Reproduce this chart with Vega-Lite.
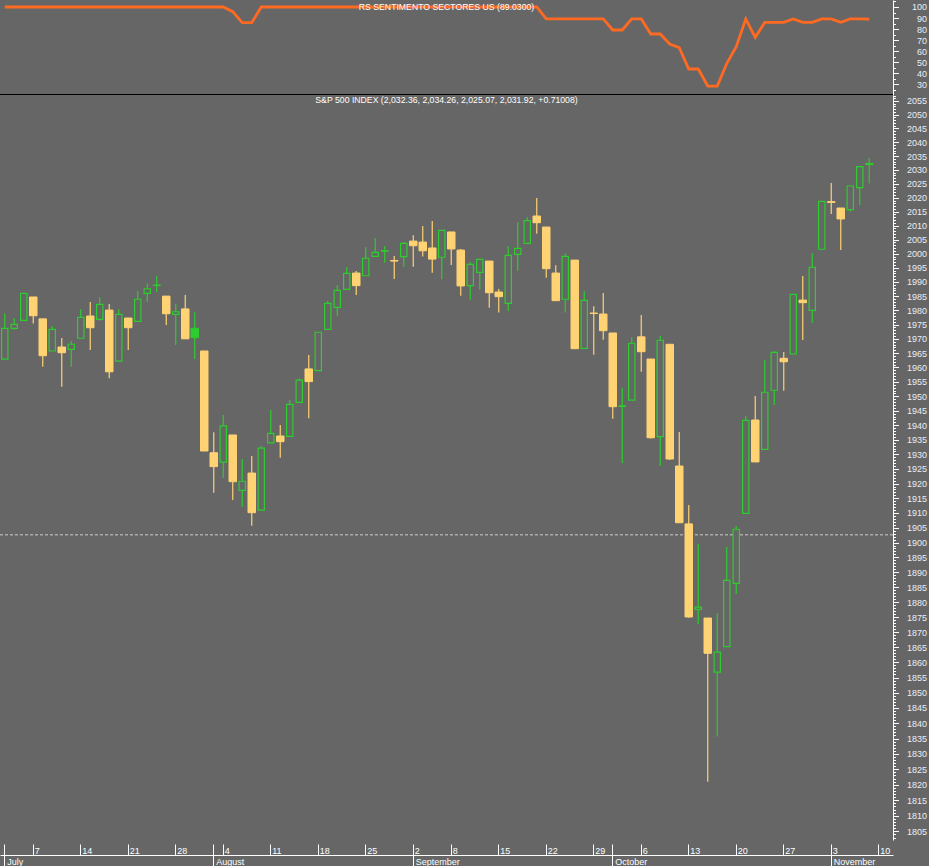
{
  "$schema": "https://vega.github.io/schema/vega-lite/v6.json",
  "width": 893,
  "height": 855,
  "autosize": {"type": "none"},
  "padding": {"left": 0, "top": 0, "right": 36, "bottom": 11},
  "background": "#666666",
  "config": {
    "view": {"stroke": null},
    "font": "Liberation Sans",
    "axis": {"grid": false, "labelFont": "Liberation Sans", "domainColor": "#FFFFFF", "tickColor": "#FFFFFF", "domainWidth": 1, "tickWidth": 1}
  },
  "title": {
    "text": "RS SENTIMENTO SECTORES US (89.0300)",
    "subtitle": "S&P 500 INDEX (2,032.36, 2,034.26, 2,025.07, 2,031.92, +0.71008)",
    "anchor": "middle",
    "frame": "group",
    "offset": -107.5,
    "subtitlePadding": 84.5,
    "font": "Liberation Sans",
    "subtitleFont": "Liberation Sans",
    "fontSize": 8.7,
    "subtitleFontSize": 8.7,
    "fontWeight": "normal",
    "color": "#FFFFFF",
    "subtitleColor": "#FFFFFF"
  },
  "data": {"values": [
    {"d":"2014-07-01","o":1962.9,"h":1978.9,"l":1962.9,"c":1973.7,"rs":100},
    {"d":"2014-07-02","o":1973.7,"h":1977.2,"l":1973.1,"c":1975.1,"rs":100},
    {"d":"2014-07-03","o":1976.5,"h":1986.0,"l":1976.5,"c":1986.0,"rs":100},
    {"d":"2014-07-07","o":1984.7,"h":1984.7,"l":1975.4,"c":1978.1,"rs":100},
    {"d":"2014-07-08","o":1977.0,"h":1977.0,"l":1960.3,"c":1964.1,"rs":100},
    {"d":"2014-07-09","o":1965.75,"h":1974.5,"l":1965.75,"c":1973.3,"rs":100},
    {"d":"2014-07-10","o":1967.15,"h":1970.3,"l":1953.3,"c":1965.15,"rs":100},
    {"d":"2014-07-11","o":1966.35,"h":1969.25,"l":1960.3,"c":1968.1,"rs":100},
    {"d":"2014-07-14","o":1970.2,"h":1980.35,"l":1970.2,"c":1977.55,"rs":100},
    {"d":"2014-07-15","o":1978.0,"h":1982.9,"l":1966.1,"c":1973.9,"rs":100},
    {"d":"2014-07-16","o":1976.85,"h":1984.6,"l":1976.35,"c":1982.1,"rs":100},
    {"d":"2014-07-17","o":1980.1,"h":1982.2,"l":1956.25,"c":1958.5,"rs":100},
    {"d":"2014-07-18","o":1962.25,"h":1980.35,"l":1962.25,"c":1978.6,"rs":100},
    {"d":"2014-07-21","o":1977.3,"h":1977.3,"l":1966.1,"c":1973.9,"rs":100},
    {"d":"2014-07-22","o":1976.15,"h":1986.7,"l":1976.15,"c":1983.9,"rs":100},
    {"d":"2014-07-23","o":1986.0,"h":1989.5,"l":1983.0,"c":1987.6,"rs":100},
    {"d":"2014-07-24","o":1988.9,"h":1992.1,"l":1986.5,"c":1988.8,"rs":100},
    {"d":"2014-07-25","o":1985.0,"h":1985.0,"l":1974.85,"c":1978.8,"rs":100},
    {"d":"2014-07-28","o":1978.6,"h":1982.2,"l":1967.85,"c":1979.5,"rs":100},
    {"d":"2014-07-29","o":1980.5,"h":1985.4,"l":1970.0,"c":1970.0,"rs":100},
    {"d":"2014-07-30","o":1973.7,"h":1979.3,"l":1962.95,"c":1970.4,"rs":100},
    {"d":"2014-07-31","o":1965.75,"h":1965.75,"l":1931.15,"c":1931.15,"rs":100},
    {"d":"2014-08-01","o":1930.55,"h":1937.6,"l":1916.9,"c":1925.8,"rs":100},
    {"d":"2014-08-04","o":1927.3,"h":1943.5,"l":1922.0,"c":1939.75,"rs":100},
    {"d":"2014-08-05","o":1936.65,"h":1936.65,"l":1914.4,"c":1920.65,"rs":95.8},
    {"d":"2014-08-06","o":1917.7,"h":1928.3,"l":1912.15,"c":1920.8,"rs":85.8},
    {"d":"2014-08-07","o":1923.6,"h":1929.45,"l":1905.7,"c":1910.1,"rs":85.8},
    {"d":"2014-08-08","o":1911.0,"h":1932.9,"l":1911.0,"c":1932.1,"rs":100},
    {"d":"2014-08-11","o":1933.9,"h":1945.3,"l":1933.9,"c":1937.2,"rs":100},
    {"d":"2014-08-12","o":1936.3,"h":1940.1,"l":1928.85,"c":1934.35,"rs":100},
    {"d":"2014-08-13","o":1936.2,"h":1948.7,"l":1936.2,"c":1947.2,"rs":100},
    {"d":"2014-08-14","o":1947.9,"h":1956.25,"l":1947.9,"c":1955.6,"rs":100},
    {"d":"2014-08-15","o":1959.5,"h":1964.35,"l":1942.4,"c":1955.1,"rs":100},
    {"d":"2014-08-18","o":1958.9,"h":1972.3,"l":1958.9,"c":1972.3,"rs":100},
    {"d":"2014-08-19","o":1973.3,"h":1983.3,"l":1973.3,"c":1982.45,"rs":100},
    {"d":"2014-08-20","o":1981.05,"h":1988.8,"l":1978.1,"c":1987.05,"rs":100},
    {"d":"2014-08-21","o":1987.4,"h":1995.2,"l":1987.4,"c":1993.05,"rs":100},
    {"d":"2014-08-22","o":1993.15,"h":1993.9,"l":1985.4,"c":1988.7,"rs":100},
    {"d":"2014-08-25","o":1992.2,"h":2002.3,"l":1992.2,"c":1998.4,"rs":100},
    {"d":"2014-08-26","o":1999.1,"h":2005.5,"l":1999.1,"c":2000.5,"rs":100},
    {"d":"2014-08-27","o":2000.9,"h":2002.75,"l":1996.8,"c":2001.1,"rs":100},
    {"d":"2014-08-28","o":1997.6,"h":1999.2,"l":1991.05,"c":1997.4,"rs":100},
    {"d":"2014-08-29","o":1999.0,"h":2004.15,"l":1995.4,"c":2003.7,"rs":100},
    {"d":"2014-09-02","o":2004.5,"h":2006.6,"l":1995.4,"c":2002.85,"rs":100},
    {"d":"2014-09-03","o":2004.15,"h":2009.85,"l":1999.0,"c":2001.05,"rs":100},
    {"d":"2014-09-04","o":2002.05,"h":2011.65,"l":1993.3,"c":1998.1,"rs":100},
    {"d":"2014-09-05","o":1998.75,"h":2008.45,"l":1990.95,"c":2008.35,"rs":100},
    {"d":"2014-09-08","o":2007.75,"h":2007.75,"l":1996.0,"c":2001.7,"rs":100},
    {"d":"2014-09-09","o":2001.3,"h":2001.7,"l":1985.15,"c":1988.6,"rs":100},
    {"d":"2014-09-10","o":1988.7,"h":1997.05,"l":1983.75,"c":1996.25,"rs":100},
    {"d":"2014-09-11","o":1993.4,"h":1998.0,"l":1987.3,"c":1998.0,"rs":100},
    {"d":"2014-09-12","o":1997.4,"h":1997.4,"l":1980.9,"c":1986.2,"rs":100},
    {"d":"2014-09-15","o":1986.45,"h":1987.5,"l":1979.2,"c":1984.8,"rs":100},
    {"d":"2014-09-16","o":1982.45,"h":2002.7,"l":1979.85,"c":1999.45,"rs":100},
    {"d":"2014-09-17","o":1999.8,"h":2011.2,"l":1994.0,"c":2001.9,"rs":100},
    {"d":"2014-09-18","o":2003.7,"h":2013.0,"l":2003.7,"c":2011.8,"rs":100},
    {"d":"2014-09-19","o":2013.45,"h":2019.9,"l":2007.1,"c":2011.05,"rs":100},
    {"d":"2014-09-22","o":2009.5,"h":2009.5,"l":1991.5,"c":1994.7,"rs":89.2},
    {"d":"2014-09-23","o":1993.15,"h":1995.9,"l":1983.4,"c":1983.4,"rs":89.2},
    {"d":"2014-09-24","o":1983.9,"h":2000.15,"l":1979.2,"c":1999.1,"rs":89.2},
    {"d":"2014-09-25","o":1997.75,"h":1997.75,"l":1966.55,"c":1966.55,"rs":89.2},
    {"d":"2014-09-26","o":1966.7,"h":1986.7,"l":1966.7,"c":1983.5,"rs":89.2},
    {"d":"2014-09-29","o":1979.05,"h":1981.4,"l":1964.45,"c":1978.9,"rs":89.2},
    {"d":"2014-09-30","o":1978.7,"h":1986.1,"l":1969.7,"c":1972.85,"rs":89.2},
    {"d":"2014-10-01","o":1972.05,"h":1972.05,"l":1942.25,"c":1946.4,"rs":79.2},
    {"d":"2014-10-02","o":1946.5,"h":1952.9,"l":1927.05,"c":1946.7,"rs":79.2},
    {"d":"2014-10-03","o":1948.7,"h":1970.6,"l":1948.7,"c":1968.45,"rs":89.2},
    {"d":"2014-10-06","o":1970.7,"h":1978.35,"l":1958.55,"c":1965.5,"rs":89.2},
    {"d":"2014-10-07","o":1962.95,"h":1962.95,"l":1935.4,"c":1935.7,"rs":75.6},
    {"d":"2014-10-08","o":1936.05,"h":1971.0,"l":1926.1,"c":1969.5,"rs":75.6},
    {"d":"2014-10-09","o":1968.1,"h":1968.1,"l":1928.07,"c":1928.4,"rs":66.6},
    {"d":"2014-10-10","o":1926.0,"h":1937.7,"l":1906.7,"c":1906.7,"rs":63.3},
    {"d":"2014-10-13","o":1906.3,"h":1912.7,"l":1874.8,"c":1875.05,"rs":44.0},
    {"d":"2014-10-14","o":1877.6,"h":1899.5,"l":1872.6,"c":1878.3,"rs":44.0},
    {"d":"2014-10-15","o":1874.7,"h":1874.7,"l":1821.0,"c":1863.0,"rs":28.6},
    {"d":"2014-10-16","o":1856.75,"h":1876.3,"l":1835.7,"c":1863.35,"rs":28.6},
    {"d":"2014-10-17","o":1865.2,"h":1898.5,"l":1865.2,"c":1887.3,"rs":48.9},
    {"d":"2014-10-20","o":1886.3,"h":1905.6,"l":1882.7,"c":1904.5,"rs":64.2},
    {"d":"2014-10-21","o":1909.9,"h":1943.2,"l":1909.9,"c":1941.7,"rs":89.2},
    {"d":"2014-10-22","o":1941.8,"h":1950.1,"l":1927.4,"c":1927.4,"rs":72.6},
    {"d":"2014-10-23","o":1931.7,"h":1962.6,"l":1931.7,"c":1951.4,"rs":86.1},
    {"d":"2014-10-24","o":1952.1,"h":1965.75,"l":1947.0,"c":1965.3,"rs":86.1},
    {"d":"2014-10-27","o":1963.2,"h":1965.4,"l":1951.95,"c":1962.0,"rs":86.1},
    {"d":"2014-10-28","o":1964.7,"h":1985.6,"l":1964.7,"c":1985.6,"rs":89.2},
    {"d":"2014-10-29","o":1983.6,"h":1992.1,"l":1969.6,"c":1982.7,"rs":86.1},
    {"d":"2014-10-30","o":1980.0,"h":2000.2,"l":1975.65,"c":1995.2,"rs":86.1},
    {"d":"2014-10-31","o":2001.6,"h":2018.7,"l":2001.6,"c":2018.7,"rs":89.2},
    {"d":"2014-11-03","o":2018.6,"h":2025.3,"l":2014.2,"c":2018.3,"rs":89.2},
    {"d":"2014-11-04","o":2016.3,"h":2016.3,"l":2001.3,"c":2012.4,"rs":86.1},
    {"d":"2014-11-05","o":2015.7,"h":2024.2,"l":2015.0,"c":2024.2,"rs":89.2},
    {"d":"2014-11-06","o":2023.6,"h":2031.2,"l":2017.3,"c":2031.2,"rs":89.2},
    {"d":"2014-11-07","o":2032.36,"h":2034.26,"l":2025.07,"c":2031.92,"rs":89.03}
  ]},
  "transform": [{"window": [{"op": "lag", "field": "c", "as": "pc"}]}],
  "layer": [
    {
      "layer": [
        {
          "mark": {"type": "line", "color": "#FF6A22", "strokeWidth": 2.8},
          "encoding": {
            "x": {
              "field": "d", "type": "ordinal",
              "scale": {"type": "band", "paddingInner": 0, "paddingOuter": 0, "domain": ["2014-07-01","2014-07-02","2014-07-03","2014-07-07","2014-07-08","2014-07-09","2014-07-10","2014-07-11","2014-07-14","2014-07-15","2014-07-16","2014-07-17","2014-07-18","2014-07-21","2014-07-22","2014-07-23","2014-07-24","2014-07-25","2014-07-28","2014-07-29","2014-07-30","2014-07-31","2014-08-01","2014-08-04","2014-08-05","2014-08-06","2014-08-07","2014-08-08","2014-08-11","2014-08-12","2014-08-13","2014-08-14","2014-08-15","2014-08-18","2014-08-19","2014-08-20","2014-08-21","2014-08-22","2014-08-25","2014-08-26","2014-08-27","2014-08-28","2014-08-29","2014-09-02","2014-09-03","2014-09-04","2014-09-05","2014-09-08","2014-09-09","2014-09-10","2014-09-11","2014-09-12","2014-09-15","2014-09-16","2014-09-17","2014-09-18","2014-09-19","2014-09-22","2014-09-23","2014-09-24","2014-09-25","2014-09-26","2014-09-29","2014-09-30","2014-10-01","2014-10-02","2014-10-03","2014-10-06","2014-10-07","2014-10-08","2014-10-09","2014-10-10","2014-10-13","2014-10-14","2014-10-15","2014-10-16","2014-10-17","2014-10-20","2014-10-21","2014-10-22","2014-10-23","2014-10-24","2014-10-27","2014-10-28","2014-10-29","2014-10-30","2014-10-31","2014-11-03","2014-11-04","2014-11-05","2014-11-06","2014-11-07","2014-11-10","2014-11-11"]},
              "axis": {
                "orient": "bottom", "title": null,
                "values": ["2014-07-01","2014-07-07","2014-07-14","2014-07-21","2014-07-28","2014-08-01","2014-08-04","2014-08-11","2014-08-18","2014-08-25","2014-09-02","2014-09-08","2014-09-15","2014-09-22","2014-09-29","2014-10-01","2014-10-06","2014-10-13","2014-10-20","2014-10-27","2014-11-03","2014-11-10"],
                "labelExpr": "indexof(['2014-07-01','2014-08-01','2014-10-01'], datum.value) >= 0 ? '' : utcFormat(toDate(datum.value), '%-d')",
                "tickSize": -11,
                "labelAlign": "left", "labelBaseline": "alphabetic", "labelPadding": 9.3, "labelOffset": 1.5,
                "labelColor": "#FFFFFF", "labelFontSize": 9, "labelAngle": 0,
                "labelOverlap": false, "labelFlush": false, "labelBound": false
              }
            },
            "y": {
              "field": "rs", "type": "quantitative",
              "scale": {"domain": [20.96, 106.32], "range": [94.5, 0], "zero": false, "nice": false},
              "axis": {
                "orient": "right", "title": null,
                "values": [25,30,35,40,45,50,55,60,65,70,75,80,85,90,95,100,105],
                "format": "d",
                "labelExpr": "datum.value % 10 === 0 && datum.value >= 30 && datum.value <= 100 ? datum.label : ''",
                "labelAlign": "right", "labelPadding": 28, "labelColor": "#E8EEF8", "labelFontSize": 9,
                "labelOverlap": false, "labelFlush": false,
                "tickSize": 5.5,
                "tickDash": {"condition": {"test": "datum.value % 10 !== 0", "value": [2.5, 20]}, "value": []}
              }
            }
          }
        },
        {
          "data": {"values": [{}]},
          "mark": {"type": "rule", "color": "#000000", "strokeWidth": 1},
          "encoding": {"y": {"datum": 20.96, "type": "quantitative"}}
        }
      ]
    },
    {
      "layer": [
        {
          "data": {"values": [{}]},
          "mark": {"type": "rule", "color": "#CFCFCF", "strokeWidth": 1, "strokeDash": [3, 2]},
          "encoding": {"y": {"datum": 1902.6, "type": "quantitative"}}
        },
        {
          "mark": {"type": "rule", "strokeWidth": 1.2},
          "encoding": {
            "x": {
              "field": "d", "type": "ordinal",
              "axis": {
                "orient": "bottom", "title": null, "domain": false,
                "values": ["2014-07-01","2014-08-01","2014-09-02","2014-10-01","2014-11-03"],
                "labelExpr": "utcFormat(toDate(datum.value), '%B')",
                "tickSize": 11,
                "labelAlign": "left", "labelBaseline": "alphabetic", "labelPadding": -1.5, "labelOffset": 2.5,
                "labelColor": "#FFFFFF", "labelFontSize": 9, "labelAngle": 0,
                "labelOverlap": false, "labelFlush": false, "labelBound": false
              }
            },
            "y": {
              "field": "l", "type": "quantitative",
              "scale": {"type": "log", "domain": [1802.23, 2057.19], "range": [840, 95], "nice": false, "zero": false},
              "axis": {
                "orient": "right", "title": null,
                "values": [1803,1804,1805,1806,1807,1808,1809,1810,1811,1812,1813,1814,1815,1816,1817,1818,1819,1820,1821,1822,1823,1824,1825,1826,1827,1828,1829,1830,1831,1832,1833,1834,1835,1836,1837,1838,1839,1840,1841,1842,1843,1844,1845,1846,1847,1848,1849,1850,1851,1852,1853,1854,1855,1856,1857,1858,1859,1860,1861,1862,1863,1864,1865,1866,1867,1868,1869,1870,1871,1872,1873,1874,1875,1876,1877,1878,1879,1880,1881,1882,1883,1884,1885,1886,1887,1888,1889,1890,1891,1892,1893,1894,1895,1896,1897,1898,1899,1900,1901,1902,1903,1904,1905,1906,1907,1908,1909,1910,1911,1912,1913,1914,1915,1916,1917,1918,1919,1920,1921,1922,1923,1924,1925,1926,1927,1928,1929,1930,1931,1932,1933,1934,1935,1936,1937,1938,1939,1940,1941,1942,1943,1944,1945,1946,1947,1948,1949,1950,1951,1952,1953,1954,1955,1956,1957,1958,1959,1960,1961,1962,1963,1964,1965,1966,1967,1968,1969,1970,1971,1972,1973,1974,1975,1976,1977,1978,1979,1980,1981,1982,1983,1984,1985,1986,1987,1988,1989,1990,1991,1992,1993,1994,1995,1996,1997,1998,1999,2000,2001,2002,2003,2004,2005,2006,2007,2008,2009,2010,2011,2012,2013,2014,2015,2016,2017,2018,2019,2020,2021,2022,2023,2024,2025,2026,2027,2028,2029,2030,2031,2032,2033,2034,2035,2036,2037,2038,2039,2040,2041,2042,2043,2044,2045,2046,2047,2048,2049,2050,2051,2052,2053,2054,2055,2056,2057],
                "format": "d",
                "labelExpr": "datum.value % 5 === 0 ? datum.label : ''",
                "labelAlign": "right", "labelPadding": 28, "labelColor": "#E8EEF8", "labelFontSize": 9,
                "labelOverlap": false, "labelFlush": false,
                "tickSize": 5.5,
                "tickDash": {"condition": {"test": "datum.value % 5 !== 0", "value": [2.5, 20]}, "value": []}
              }
            },
            "y2": {"field": "h"},
            "stroke": {"condition": {"test": "datum.pc == null || datum.c >= datum.pc", "value": "#2ECC2E"}, "value": "#FFD273"}
          }
        },
        {
          "transform": [{"filter": "datum.c < datum.o"}],
          "mark": {"type": "bar", "width": 7.5, "strokeWidth": 1},
          "encoding": {
            "x": {"field": "d", "type": "ordinal"},
            "y": {"field": "o", "type": "quantitative"},
            "y2": {"field": "c"},
            "fill": {"condition": {"test": "datum.pc == null || datum.c >= datum.pc", "value": "#2ECC2E"}, "value": "#FFD273"},
            "stroke": {"condition": {"test": "datum.pc == null || datum.c >= datum.pc", "value": "#2ECC2E"}, "value": "#FFD273"}
          }
        },
        {
          "transform": [{"filter": "datum.c >= datum.o"}],
          "mark": {"type": "bar", "width": 6.3, "strokeWidth": 1.2, "fill": "#666666"},
          "encoding": {
            "x": {"field": "d", "type": "ordinal"},
            "y": {"field": "o", "type": "quantitative"},
            "y2": {"field": "c"},
            "stroke": {"condition": {"test": "datum.pc == null || datum.c >= datum.pc", "value": "#2ECC2E"}, "value": "#FFD273"}
          }
        }
      ]
    }
  ],
  "resolve": {"scale": {"y": "independent"}, "axis": {"x": "independent", "y": "independent"}}
}
